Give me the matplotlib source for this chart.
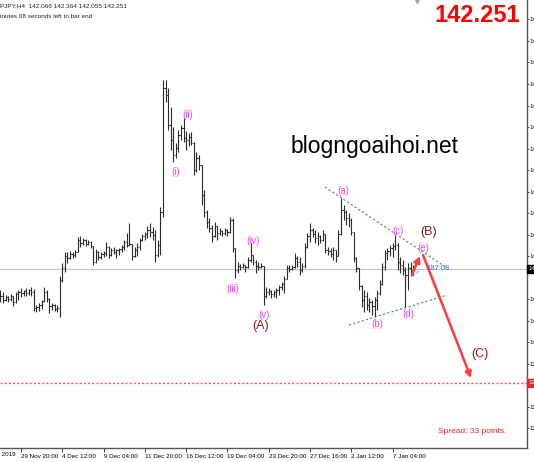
import matplotlib.pyplot as plt
import numpy as np

plt.rcParams['font.family'] = ['Liberation Sans', 'DejaVu Sans']

# GBPJPY H4 bars (open, high, low, close)
opens = [141.56, 141.44, 141.32, 141.41, 141.35, 141.44, 141.26, 141.50, 141.56, 141.53,
         141.59, 141.53, 141.62, 141.56, 141.08, 141.11, 141.17, 141.29, 141.56, 141.35,
         141.14, 141.17, 141.05, 141.08, 141.92, 142.28, 142.64, 142.58, 142.70, 142.67,
         142.76, 143.12, 143.03, 143.12, 143.00, 143.06, 142.94, 142.46, 142.76, 142.61,
         142.70, 142.73, 142.91, 142.67, 142.82, 142.76, 142.82, 142.85, 142.91, 143.06,
         142.97, 143.00, 142.64, 142.82, 142.91, 143.12, 143.24, 143.30, 143.42, 143.36,
         143.27, 142.67, 142.97, 143.96, 147.68, 147.47, 146.57, 146.12, 145.67, 145.88,
         146.27, 146.48, 146.18, 146.12, 146.21, 146.03, 145.22, 145.58, 145.37, 144.47,
         143.96, 143.66, 143.48, 143.24, 143.54, 143.33, 143.39, 143.33, 143.42, 143.36,
         143.72, 142.88, 142.22, 142.34, 142.31, 142.37, 142.31, 142.52, 142.67, 142.46,
         142.34, 142.31, 142.34, 141.44, 141.56, 141.59, 141.50, 141.56, 141.62, 141.71,
         141.80, 141.95, 142.28, 142.25, 142.31, 142.58, 142.46, 142.22, 142.34, 142.91,
         143.24, 143.42, 143.30, 143.18, 143.24, 143.12, 143.30, 142.82, 142.79, 142.70,
         142.82, 142.64, 143.30, 144.02, 143.96, 143.78, 143.72, 143.36, 142.58, 142.28,
         141.74, 141.32, 141.44, 141.17, 141.26, 141.14, 141.32, 141.53, 141.80, 142.31,
         142.73, 142.79, 142.88, 142.94, 142.97, 142.46, 142.37, 142.22, 142.07, 142.28,
         142.066]
highs = [141.62, 141.56, 141.47, 141.44, 141.50, 141.44, 141.56, 141.62, 141.68, 141.62,
         141.68, 141.65, 141.71, 141.65, 141.17, 141.23, 141.32, 141.71, 141.62, 141.38,
         141.23, 141.20, 141.17, 142.04, 142.43, 142.76, 142.76, 142.79, 142.76, 142.82,
         143.21, 143.24, 143.18, 143.15, 143.12, 143.09, 142.94, 142.85, 142.79, 142.76,
         142.79, 143.06, 142.94, 142.88, 142.91, 142.85, 142.88, 142.97, 143.12, 143.33,
         143.63, 143.00, 142.91, 143.03, 143.18, 143.30, 143.36, 143.54, 143.63, 143.51,
         143.42, 143.12, 144.11, 147.92, 147.92, 147.68, 147.11, 146.51, 146.03, 146.42,
         146.57, 146.78, 146.39, 146.33, 146.36, 146.06, 145.76, 145.67, 145.37, 144.62,
         144.02, 143.78, 143.57, 143.66, 143.54, 143.48, 143.42, 143.48, 143.45, 143.81,
         143.78, 142.88, 142.46, 142.40, 142.43, 142.37, 142.61, 143.03, 142.67, 142.52,
         142.46, 142.43, 142.34, 141.71, 141.68, 141.62, 141.62, 141.68, 141.77, 141.86,
         142.04, 142.37, 142.37, 142.37, 142.73, 142.64, 142.61, 142.43, 143.03, 143.33,
         143.63, 143.48, 143.42, 143.36, 143.27, 143.42, 143.30, 142.91, 142.88, 142.91,
         142.82, 143.42, 144.38, 144.17, 144.02, 143.93, 143.78, 143.36, 142.61, 142.28,
         141.77, 141.62, 141.56, 141.38, 141.32, 141.41, 141.62, 141.92, 142.43, 142.82,
         142.88, 142.97, 143.03, 143.27, 143.03, 142.61, 142.52, 142.31, 142.43, 142.46,
         142.364]
lows = [141.26, 141.23, 141.29, 141.26, 141.29, 141.14, 141.23, 141.32, 141.41, 141.44,
        141.44, 141.47, 141.44, 140.99, 140.96, 140.99, 141.05, 141.26, 141.26, 140.93,
        141.02, 140.99, 140.96, 140.81, 141.86, 142.16, 142.43, 142.55, 142.58, 142.61,
        142.76, 142.91, 142.97, 142.94, 142.97, 142.88, 142.37, 142.43, 142.52, 142.55,
        142.61, 142.64, 142.58, 142.64, 142.70, 142.58, 142.67, 142.76, 142.82, 142.91,
        142.94, 142.52, 142.61, 142.64, 142.82, 143.09, 143.12, 143.18, 143.21, 143.12,
        142.46, 142.61, 142.67, 143.81, 147.26, 146.42, 145.82, 145.46, 145.58, 145.76,
        146.12, 146.06, 145.82, 145.94, 145.97, 145.07, 145.16, 145.22, 144.17, 143.81,
        143.48, 143.36, 143.06, 143.21, 143.12, 143.27, 143.24, 143.27, 143.24, 143.33,
        142.76, 141.98, 142.13, 142.22, 142.28, 142.16, 142.28, 142.46, 142.37, 142.13,
        142.22, 142.28, 141.17, 141.38, 141.47, 141.38, 141.41, 141.38, 141.47, 141.62,
        141.53, 141.95, 142.16, 142.22, 142.28, 142.31, 142.07, 142.16, 142.28, 142.88,
        143.06, 143.21, 143.03, 142.97, 143.03, 143.09, 142.73, 142.67, 142.61, 142.52,
        142.46, 142.64, 143.27, 143.72, 143.57, 143.51, 143.27, 142.46, 142.16, 141.62,
        141.11, 140.96, 141.02, 140.96, 140.87, 140.81, 141.02, 141.47, 141.77, 142.22,
        142.52, 142.64, 142.61, 142.82, 142.22, 142.13, 142.07, 141.11, 141.62, 142.04,
        142.055]
closes = [141.44, 141.32, 141.41, 141.35, 141.44, 141.26, 141.50, 141.56, 141.53, 141.59,
          141.53, 141.62, 141.56, 141.08, 141.11, 141.17, 141.29, 141.56, 141.35, 141.14,
          141.17, 141.05, 141.08, 141.92, 142.28, 142.64, 142.58, 142.70, 142.67, 142.76,
          143.12, 143.03, 143.12, 143.00, 143.06, 142.94, 142.46, 142.76, 142.61, 142.70,
          142.73, 142.91, 142.67, 142.82, 142.76, 142.82, 142.85, 142.91, 143.06, 142.97,
          143.00, 142.64, 142.82, 142.91, 143.12, 143.24, 143.30, 143.42, 143.36, 143.27,
          142.67, 142.97, 143.96, 147.68, 147.47, 146.57, 146.12, 145.67, 145.88, 146.27,
          146.48, 146.18, 146.12, 146.21, 146.03, 145.22, 145.58, 145.37, 144.47, 143.96,
          143.66, 143.48, 143.24, 143.54, 143.33, 143.39, 143.33, 143.42, 143.36, 143.72,
          142.88, 142.22, 142.34, 142.31, 142.37, 142.31, 142.52, 142.67, 142.46, 142.34,
          142.31, 142.34, 141.44, 141.56, 141.59, 141.50, 141.56, 141.62, 141.71, 141.80,
          141.95, 142.28, 142.25, 142.31, 142.58, 142.46, 142.22, 142.34, 142.91, 143.24,
          143.42, 143.30, 143.18, 143.24, 143.12, 143.30, 142.82, 142.79, 142.70, 142.82,
          142.64, 143.30, 144.02, 143.96, 143.78, 143.72, 143.36, 142.58, 142.28, 141.74,
          141.32, 141.44, 141.17, 141.26, 141.14, 141.32, 141.53, 141.80, 142.31, 142.73,
          142.79, 142.88, 142.94, 142.97, 142.46, 142.37, 142.22, 142.07, 142.28, 142.066,
          142.251]

# time axis labels (bar index, text)
date_pos = [8, 24, 40, 56, 72, 88, 104, 120, 136, 152]
date_labels = ['29 Nov 20:00', '4 Dec 12:00', '9 Dec 04:00', '11 Dec 20:00',
               '16 Dec 12:00', '19 Dec 04:00', '23 Dec 20:00', '27 Dec 16:00',
               '2 Jan 12:00', '7 Jan 04:00']
first_label = '27 Nov 2019'

last_price = 142.251
target_price = 138.83

# elliott wave labels (bar index, price, text)
minor_waves = [(68.1, 145.16, '(i)'), (72.7, 146.87, '(ii)'), (90.2, 141.65, '(iii)'),
               (97.9, 143.09, '(iv)'), (102.2, 140.87, '(v)'), (132.8, 144.59, '(a)'),
               (146.0, 140.60, '(b)'), (154.1, 143.39, '(c)'), (158.0, 140.90, '(d)'),
               (163.8, 142.88, '(e)')]
major_waves = [(101.0, 140.54, '(A)'), (166.1, 143.36, '(B)'), (185.9, 139.70, '(C)')]

# triangle trendlines and projection arrows
upper_line = ([125.8, 173.1], [144.71, 142.28])
lower_line = ([135.1, 173.1], [140.57, 141.47])
big_arrow = ((163.8, 142.67), (182.4, 138.98))
small_arrow = ((159.5, 142.07), (162.6, 142.64))

W, H = 534, 462
fig = plt.figure(figsize=(W / 100, H / 100), dpi=100)
ax = fig.add_axes([0, 14 / H, 527 / W, 448 / H])

idx = np.arange(len(closes))
bar_col = '#2a2a2a'
ax.vlines(idx, lows, highs, color=bar_col, lw=0.8)
ax.hlines(opens, idx - 0.45, idx, color=bar_col, lw=0.8)
ax.hlines(closes, idx, idx + 0.45, color=bar_col, lw=0.8)

ax.axhline(last_price, color='#c4c4c4', lw=0.8, zorder=0)
ax.axhline(target_price, color='#ff5050', lw=1, ls=(0, (1.5, 1.5)))

ax.plot(*upper_line, color='#3a9a3a', lw=0.8, ls=(0, (2, 2)))
ax.plot(*lower_line, color='#3a9a3a', lw=0.8, ls=(0, (2, 2)))

for start, end in (big_arrow, small_arrow):
    ax.annotate('', xy=end, xytext=start,
                arrowprops=dict(arrowstyle='-|>', color='#ff3b3b', lw=1.8,
                                mutation_scale=9, shrinkA=0, shrinkB=0))

for x, y, t in minor_waves:
    ax.text(x, y, t, color='#ff40ff', fontsize=7, ha='center', va='center')
for x, y, t in major_waves:
    ax.text(x, y, t, color='#8b1a1a', fontsize=9, ha='center', va='center')

ax.text(165.2, last_price, '187:08', color='#3366ff', fontsize=5.5, va='center', ha='left')
ax.text(161.0, last_price - 0.1, '<', color='#3366ff', fontsize=4.5, va='center', ha='left')
ax.text(169.8, 137.37, 'Spread: 33 points.', color='#ff2020', fontsize=6, va='center', ha='left')

ax.set_xticks(date_pos)
ax.set_xticklabels(date_labels, fontsize=4.5, ha='left')
# price scale ticks skip the two labelled levels (boxes cover them)
yt = [v for v in np.arange(149.735, 136.8, -0.645)
      if abs(v - last_price) > 0.3 and abs(v - target_price) > 0.3]
ax.set_yticks(yt)
ax.set_yticklabels(['%.3f' % v for v in yt], fontsize=4.5)
ax.yaxis.tick_right()
ax.tick_params(axis='x', direction='out', length=3, width=0.7, color='#444', pad=1.5)
ax.tick_params(axis='y', direction='out', length=1.5, width=0.7, color='#444', pad=0.6)

# limits after ticks, set_xticks widens the view otherwise
ax.set_xlim(-0.14, 204.1)
ax.set_ylim(136.88, 150.32)

for s in ('top', 'left'):
    ax.spines[s].set_visible(False)
for s in ('right', 'bottom'):
    ax.spines[s].set_color('#555')
    ax.spines[s].set_linewidth(1)

# chart shift marker at the top
ax.plot([0.791], [0.997], marker='v', color='#aaa', ms=3, transform=ax.transAxes, clip_on=False)

# price boxes on the scale
ax.annotate('142.251', xy=(1.0, last_price), xycoords=('axes fraction', 'data'),
            xytext=(1, 0), textcoords='offset points', fontsize=4.5, color='white',
            va='center', ha='left', bbox=dict(boxstyle='square,pad=0.2', fc='black', ec='black'))
ax.annotate('138.830', xy=(1.0, target_price), xycoords=('axes fraction', 'data'),
            xytext=(1, 0), textcoords='offset points', fontsize=4.5, color='white',
            va='center', ha='left', bbox=dict(boxstyle='square,pad=0.2', fc='#ff2020', ec='#ff2020'))

fig.text(15 / W, 1 - 454 / H, first_label, fontsize=4.5, va='center', ha='right', color='black')
fig.text(0.0, 1 - 6 / H, 'PJPY,H4  142.066 142.364 142.055 142.251', fontsize=4.6,
         va='center', ha='left', color='#222')
fig.text(0.0, 1 - 16 / H, 'inutes 08 seconds left to bar end', fontsize=4.6,
         va='center', ha='left', color='#222')
fig.text(520 / W, 1 - 15 / H, '142.251', fontsize=17, fontweight='bold',
         color='#ff0000', va='center', ha='right')
fig.text(375 / W, 1 - 147 / H, 'blogngoaihoi.net', fontsize=16.5, color='black',
         va='center', ha='center')

fig.savefig('out.png', dpi=100)
